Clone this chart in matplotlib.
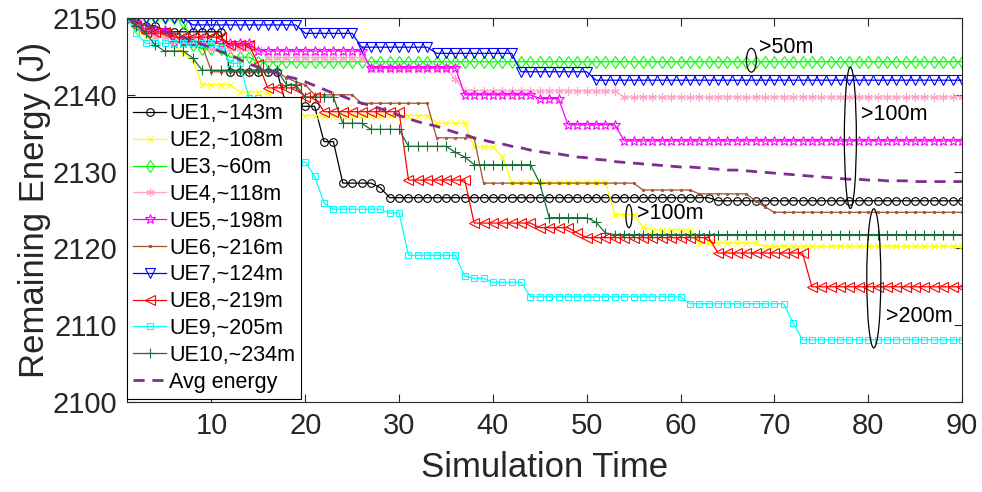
import matplotlib
matplotlib.use("Agg")
import matplotlib.pyplot as plt
from matplotlib.patches import Ellipse
import numpy as np

plt.rcParams['font.family'] = ['Liberation Sans', 'DejaVu Sans']

time = list(range(1, 91))

ue1 = [2150, 2149.5, 2149, 2149, 2148.2, 2148.2, 2148.2, 2148.2, 2148.2, 2148.2,
       2148.2, 2143, 2143, 2143, 2143, 2143, 2143, 2138.5, 2138.5, 2138.5,
       2138.5, 2133.9, 2133.9, 2128.5, 2128.5, 2128.5, 2128.5, 2127.9, 2126.6, 2126.6,
       2126.6, 2126.6, 2126.6, 2126.6, 2126.6, 2126.6, 2126.6, 2126.6, 2126.6, 2126.6,
       2126.6, 2126.6, 2126.6, 2126.6, 2126.6, 2126.6, 2126.6, 2126.6, 2126.6, 2126.6,
       2126.6, 2126.6, 2126.6, 2126.6, 2126.6, 2126.6, 2126.6, 2126.6, 2126.6, 2126.6,
       2126.6, 2126.6, 2126.6, 2126.2, 2126.2, 2126.2, 2126.2, 2126.2, 2126.2, 2126.2,
       2126.2, 2126.2, 2126.2, 2126.2, 2126.2, 2126.2, 2126.2, 2126.2, 2126.2, 2126.2,
       2126.2, 2126.2, 2126.2, 2126.2, 2126.2, 2126.2, 2126.2, 2126.2, 2126.2, 2126.2]

ue2 = [2150, 2148.5, 2147.5, 2147.5, 2147.5, 2146.5, 2145.5, 2144.5, 2141.3, 2141.3,
       2141.3, 2141.3, 2140.4, 2140.4, 2140.4, 2140.4, 2137.3, 2137.3, 2137.3, 2137.3,
       2137.3, 2137.3, 2137.3, 2137.3, 2137.3, 2137.3, 2137.3, 2137.3, 2137.3, 2137.3,
       2137.3, 2137.3, 2137.3, 2136.3, 2136.3, 2136.3, 2136.3, 2133.2, 2133.2, 2133.2,
       2131.9, 2128.6, 2128.6, 2128.6, 2128.6, 2128.6, 2128.6, 2128.6, 2128.6, 2128.6,
       2128.6, 2128.6, 2124.4, 2124.4, 2124.4, 2122.8, 2122.4, 2122.4, 2122.4, 2122.4,
       2122.4, 2120.7, 2120.7, 2120.7, 2120.7, 2120.7, 2120.7, 2120.7, 2120.3, 2120.3,
       2120.3, 2120.3, 2120.3, 2120.3, 2120.3, 2120.3, 2120.3, 2120.3, 2120.3, 2120.3,
       2120.3, 2120.3, 2120.3, 2120.3, 2120.3, 2120.3, 2120.3, 2120.3, 2120.3, 2120.3]

ue3 = [2150, 2150, 2150, 2150, 2150, 2150, 2149.5, 2146.5, 2146, 2146,
       2146, 2144.9, 2144.9, 2144.9, 2144.3, 2144.3, 2144.3, 2144.3, 2144.3, 2144.3,
       2144.3, 2144.3, 2144.3, 2144.3, 2144.3, 2144.3, 2144.3, 2144.3, 2144.3, 2144.3,
       2144.3, 2144.3, 2144.3, 2144.3, 2144.3, 2144.3, 2144.3, 2144.3, 2144.3, 2144.3,
       2144.3, 2144.3, 2144.3, 2144.3, 2144.3, 2144.3, 2144.3, 2144.3, 2144.3, 2144.3,
       2144.3, 2144.3, 2144.3, 2144.3, 2144.3, 2144.3, 2144.3, 2144.3, 2144.3, 2144.3,
       2144.3, 2144.3, 2144.3, 2144.3, 2144.3, 2144.3, 2144.3, 2144.3, 2144.3, 2144.3,
       2144.3, 2144.3, 2144.3, 2144.3, 2144.3, 2144.3, 2144.3, 2144.3, 2144.3, 2144.3,
       2144.3, 2144.3, 2144.3, 2144.3, 2144.3, 2144.3, 2144.3, 2144.3, 2144.3, 2144.3]

ue4 = [2150, 2149, 2148.5, 2147.5, 2147.5, 2147.5, 2147.5, 2147.5, 2147.5, 2146,
       2146, 2146, 2146, 2146, 2146, 2144.8, 2144.8, 2144.8, 2144.8, 2144.8,
       2144.8, 2144.8, 2144.8, 2144.8, 2144.8, 2144.8, 2143.5, 2143.5, 2143.5, 2143.5,
       2143.5, 2143.5, 2143.5, 2143.5, 2143.5, 2142, 2140.5, 2140.5, 2140.5, 2140.5,
       2140.5, 2140.5, 2140.5, 2140.5, 2140.5, 2140.5, 2140.5, 2140.5, 2140.5, 2140.5,
       2140.5, 2140.5, 2140.5, 2139.7, 2139.7, 2139.7, 2139.7, 2139.7, 2139.7, 2139.7,
       2139.7, 2139.7, 2139.7, 2139.7, 2139.7, 2139.7, 2139.7, 2139.7, 2139.7, 2139.7,
       2139.7, 2139.7, 2139.7, 2139.7, 2139.7, 2139.7, 2139.7, 2139.7, 2139.7, 2139.7,
       2139.7, 2139.7, 2139.7, 2139.7, 2139.7, 2139.7, 2139.7, 2139.7, 2139.7, 2139.7]

ue5 = [2150, 2149.5, 2148.5, 2148.5, 2148.5, 2146.7, 2146.7, 2146.7, 2146.7, 2146.7,
       2146.7, 2146.7, 2146.7, 2146.7, 2145.7, 2145.7, 2145.7, 2145.7, 2145.7, 2145.7,
       2145.7, 2145.7, 2145.7, 2145.7, 2145.7, 2145.7, 2143.5, 2143.5, 2143.5, 2143.5,
       2143.5, 2143.5, 2143.5, 2143.5, 2143.5, 2143.5, 2140, 2140, 2140, 2140,
       2140, 2140, 2140, 2140, 2139.5, 2139.5, 2139.5, 2136.1, 2136.1, 2136.1,
       2136.1, 2136.1, 2136.1, 2134, 2134, 2134, 2134, 2134, 2134, 2134,
       2134, 2134, 2134, 2134, 2134, 2134, 2134, 2134, 2134, 2134,
       2134, 2134, 2134, 2134, 2134, 2134, 2134, 2134, 2134, 2134,
       2134, 2134, 2134, 2134, 2134, 2134, 2134, 2134, 2134, 2134]

ue6 = [2150, 2149.5, 2149, 2148, 2148, 2148, 2146.5, 2146.5, 2146.5, 2143,
       2143, 2143, 2143, 2143, 2143, 2143, 2143, 2142.2, 2141.7, 2141.3,
       2140, 2140, 2140, 2140, 2140, 2138.9, 2138.9, 2138.9, 2138.9, 2138.9,
       2138.9, 2138.9, 2138.9, 2134.4, 2134.4, 2134.4, 2134.4, 2134.4, 2128.5, 2128.5,
       2128.5, 2128.5, 2128.5, 2128.5, 2128.5, 2128.5, 2128.5, 2128.5, 2128.5, 2128.5,
       2128.5, 2128.5, 2128.5, 2128.5, 2128.5, 2127.6, 2127.6, 2127.6, 2127.6, 2127.6,
       2127.6, 2127.1, 2127.1, 2127.1, 2127.1, 2127.1, 2127.1, 2126.2, 2125.4, 2124.7,
       2124.7, 2124.7, 2124.7, 2124.7, 2124.7, 2124.7, 2124.7, 2124.7, 2124.7, 2124.7,
       2124.7, 2124.7, 2124.7, 2124.7, 2124.7, 2124.7, 2124.7, 2124.7, 2124.7, 2124.7]

ue7 = [2150, 2150, 2150, 2150, 2150, 2150, 2150, 2149.1, 2149.1, 2149.1,
       2149.1, 2149.1, 2149.1, 2149.1, 2149.1, 2149.1, 2149.1, 2149.1, 2149.1, 2148,
       2148, 2148, 2148, 2148, 2148, 2146.2, 2146.2, 2146.2, 2146.2, 2146.2,
       2146.2, 2146.2, 2146.2, 2145.4, 2145.4, 2145.4, 2145.4, 2145.4, 2145.4, 2145.4,
       2145.4, 2145.4, 2143, 2143, 2143, 2143, 2143, 2143, 2143, 2143,
       2141.9, 2141.9, 2141.9, 2141.9, 2141.9, 2141.9, 2141.9, 2141.9, 2141.9, 2141.9,
       2141.9, 2141.9, 2141.9, 2141.9, 2141.9, 2141.9, 2141.9, 2141.9, 2141.9, 2141.9,
       2141.9, 2141.9, 2141.9, 2141.9, 2141.9, 2141.9, 2141.9, 2141.9, 2141.9, 2141.9,
       2141.9, 2141.9, 2141.9, 2141.9, 2141.9, 2141.9, 2141.9, 2141.9, 2141.9, 2141.9]

ue8 = [2150, 2149, 2148.2, 2148.2, 2148.2, 2147.5, 2147.5, 2147.5, 2147.5, 2147.5,
       2147.5, 2146.5, 2146.5, 2146.5, 2144, 2140.9, 2140.9, 2140.9, 2140.9, 2139.7,
       2139.7, 2137.8, 2137.8, 2137.8, 2137.8, 2137.8, 2137.8, 2137.8, 2137.8, 2137.8,
       2128.9, 2128.9, 2128.9, 2128.9, 2128.9, 2128.9, 2128.9, 2123.3, 2123.3, 2123.3,
       2123.3, 2123.3, 2123.3, 2123.3, 2122.7, 2122.7, 2122.7, 2122.7, 2122.0, 2121.4,
       2121.4, 2121.4, 2121.4, 2121.4, 2121.4, 2121.4, 2121.4, 2121.4, 2121.4, 2121.4,
       2121.4, 2121.4, 2121.4, 2119.4, 2119.4, 2119.4, 2119.4, 2119.4, 2119.4, 2119.4,
       2119.4, 2119.4, 2119.4, 2115, 2115, 2115, 2115, 2115, 2115, 2115,
       2115, 2115, 2115, 2115, 2115, 2115, 2115, 2115, 2115, 2115]

ue9 = [2150, 2148, 2146.7, 2146.7, 2146.7, 2146.7, 2146.7, 2146.7, 2146.7, 2146.7,
       2146.1, 2144.1, 2144.1, 2139.6, 2139.6, 2136.5, 2134, 2132, 2131.25, 2131.25,
       2129.4, 2125.9, 2125.1, 2125.1, 2125.1, 2125.1, 2125.1, 2125.1, 2124.6, 2124.6,
       2119.1, 2119.1, 2119.1, 2119.1, 2119.1, 2119.1, 2116.4, 2116.1, 2116.1, 2115.6,
       2115.6, 2115.6, 2115.6, 2113.7, 2113.7, 2113.7, 2113.7, 2113.7, 2113.7, 2113.7,
       2113.7, 2113.7, 2113.7, 2113.7, 2113.7, 2113.7, 2113.7, 2113.7, 2113.7, 2113.7,
       2112.8, 2112.8, 2112.8, 2112.8, 2112.8, 2112.8, 2112.8, 2112.8, 2112.8, 2112.8,
       2112.8, 2110.3, 2108.1, 2108.1, 2108.1, 2108.1, 2108.1, 2108.1, 2108.1, 2108.1,
       2108.1, 2108.1, 2108.1, 2108.1, 2108.1, 2108.1, 2108.1, 2108.1, 2108.1, 2108.1]

ue10 = [2150, 2149, 2148, 2146.5, 2145.7, 2145.7, 2145.7, 2144.8, 2143.2, 2143.2,
        2143.2, 2143.2, 2143.2, 2143.2, 2143.2, 2143.2, 2143.2, 2141.3, 2141.3, 2139.7,
        2139.7, 2139.7, 2139.7, 2136.3, 2136.3, 2136.3, 2135.5, 2135.5, 2135.5, 2135.5,
        2133.3, 2133.3, 2133.3, 2133.3, 2133.3, 2132.5, 2131.9, 2130.9, 2130.9, 2130.9,
        2130.9, 2130.9, 2130.9, 2130.9, 2128.5, 2124, 2124, 2124, 2124, 2124,
        2123.4, 2122.0, 2121.8, 2121.8, 2121.8, 2121.8, 2121.8, 2121.8, 2121.8, 2121.8,
        2121.8, 2121.8, 2121.8, 2121.8, 2121.8, 2121.8, 2121.8, 2121.8, 2121.8, 2121.8,
        2121.8, 2121.8, 2121.8, 2121.8, 2121.8, 2121.8, 2121.8, 2121.8, 2121.8, 2121.8,
        2121.8, 2121.8, 2121.8, 2121.8, 2121.8, 2121.8, 2121.8, 2121.8, 2121.8, 2121.8]

avg_energy = [2150.0, 2149.5, 2149.1, 2148.7, 2148.3, 2147.9, 2147.5, 2147.0, 2146.6, 2146.1,
              2145.6, 2145.2, 2144.6, 2144.0, 2143.6, 2143.2, 2142.8, 2142.4, 2142.1, 2141.7,
              2141.2, 2140.7, 2140.2, 2139.8, 2139.3, 2138.9, 2138.6, 2138.2, 2137.8, 2137.3,
              2136.9, 2136.5, 2136.2, 2135.9, 2135.5, 2135.1, 2134.8, 2134.4, 2134.1, 2133.8,
              2133.6, 2133.3, 2133.1, 2132.8, 2132.6, 2132.4, 2132.3, 2132.1, 2131.9, 2131.8,
              2131.6, 2131.5, 2131.3, 2131.2, 2131.1, 2131.0, 2130.9, 2130.8, 2130.7, 2130.6,
              2130.6, 2130.5, 2130.4, 2130.3, 2130.2, 2130.2, 2130.1, 2130.0, 2129.9, 2129.8,
              2129.7, 2129.6, 2129.5, 2129.4, 2129.3, 2129.2, 2129.1, 2129.0, 2129.0, 2128.9,
              2128.9, 2128.8, 2128.8, 2128.8, 2128.7, 2128.7, 2128.7, 2128.7, 2128.7, 2128.7]

labels = ["UE1,~143m", "UE2,~108m", "UE3,~60m", "UE4,~118m", "UE5,~198m",
          "UE6,~216m", "UE7,~124m", "UE8,~219m", "UE9,~205m", "UE10,~234m"]

x_ticks = [10, 20, 30, 40, 50, 60, 70, 80, 90]
y_ticks = [2100, 2110, 2120, 2130, 2140, 2150]

series = [ue1, ue2, ue3, ue4, ue5, ue6, ue7, ue8, ue9, ue10]
colors = ['#000000', '#FFFF00', '#00FF00', '#FFA3CC', '#FF00FF',
          '#A0522D', '#0000FF', '#FF0000', '#00FFFF', '#1B6E3A']
markers = ['o', 'x', 'd', (6, 2, 0), '*', '.', 'v', '<', 's', '+']
msizes = [5.5, 5, 6, 6, 7.5, 3, 6.5, 6.5, 5, 7]

fig = plt.figure(figsize=(9.82, 4.92), dpi=100)
ax = fig.add_axes([127/982, 1-402/492, (962-127)/982, (402-18)/492])

for y, c, m, ms, lab in zip(series, colors, markers, msizes, labels):
    ax.plot(time, y, color=c, marker=m, markersize=ms, markerfacecolor='none',
            markeredgecolor=c, markeredgewidth=0.8, linewidth=0.9, label=lab)

ax.plot(time, avg_energy, color='#7E2F8E', linestyle='--', linewidth=2.0,
        dashes=(4.0, 2.8), label='Avg energy')

ax.set_xlim(1, 90)
ax.set_ylim(2100, 2150)
ax.set_xticks(x_ticks)
ax.set_yticks(y_ticks)
dark = (0.15, 0.15, 0.15)
ax.tick_params(direction='in', length=6, width=0.8, top=True, right=True,
               labelsize=21, colors=dark, pad=7)
for s in ax.spines.values():
    s.set_color(dark)
    s.set_linewidth(0.8)

ax.set_xlabel('Simulation Time', fontsize=25, color=dark, labelpad=8)
ax.set_ylabel('Remaining Energy (J)', fontsize=25, color=dark, labelpad=1)

# annotation ellipses and texts
ell = [(67.55, 2144.5, 1.06, 3.1), (78.1, 2134.4, 1.28, 18.4),
       (80.6, 2116.1, 1.5, 18.1), (54.5, 2124.2, 0.64, 3.0)]
for (cx, cy, w, h) in ell:
    ax.add_patch(Ellipse((cx, cy), w, h, fill=False, edgecolor='black',
                         linewidth=0.9, zorder=5))
ann = [(68.4, 2146.1, '>50m'), (79.2, 2137.4, '>100m'),
       (81.9, 2111.1, '>200m'), (55.4, 2124.6, '>100m')]
for (tx, ty, s) in ann:
    ax.text(tx, ty, s, fontsize=15.5, ha='left', va='center', color='black', zorder=6)

leg = ax.legend(loc='upper left', bbox_to_anchor=(0, (402-97)/384), borderaxespad=0,
                fontsize=15.5, frameon=True, fancybox=False, framealpha=1,
                edgecolor='black', handlelength=1.5, handletextpad=0.15,
                labelspacing=0.27, borderpad=0.3)
leg.get_frame().set_linewidth(0.8)
leg.set_zorder(10)

fig.savefig('out.png', dpi=100)
